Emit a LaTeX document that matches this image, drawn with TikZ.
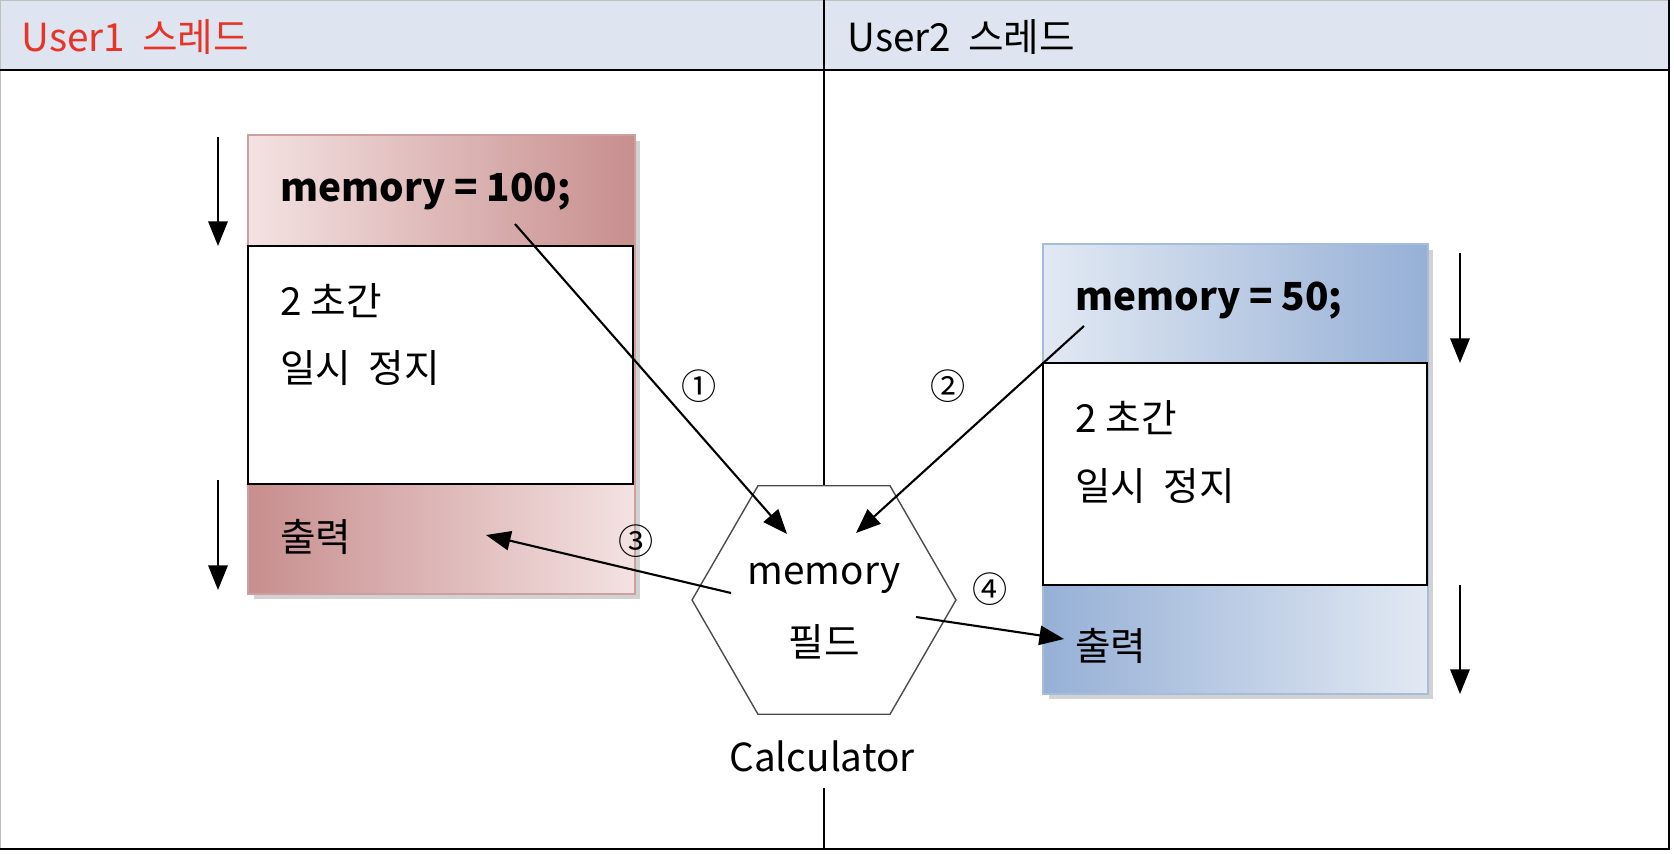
\documentclass[tikz,border=0pt]{standalone}
\usepackage{fontspec}
\setmainfont{Noto Sans CJK KR}
\usetikzlibrary{arrows.meta,shapes.geometric}
\definecolor{hdrblue}{RGB}{222,229,240}
\definecolor{rosedark}{RGB}{200,142,142}
\definecolor{roselight}{RGB}{244,226,226}
\definecolor{roseline}{RGB}{205,160,160}
\definecolor{bluedark}{RGB}{150,176,214}
\definecolor{bluelight}{RGB}{226,233,243}
\definecolor{blueline}{RGB}{165,188,220}
\definecolor{usered}{RGB}{232,52,40}
\tikzset{
    %Define standard arrow tip
    >={Triangle[length=14pt,width=11pt]},
    % Define arrow style
    pil/.style={
           ->,
           line width=1.2pt},
    % arrows beside the boxes
    tidpil/.style={
           ->,
           line width=1.3pt},
    txt/.style={anchor=west, inner sep=0pt, font=\fontsize{22}{26}\selectfont},
    num/.style={inner sep=0pt, font=\fontsize{20}{24}\selectfont}
}

\begin{document}
\begin{tikzpicture}[x=0.02cm,y=-0.02cm]
\useasboundingbox (0,0) rectangle (1674,854);
% header
\fill[hdrblue] (0,0) rectangle (1669,70);
\node[txt, text=usered] (h1txt) at (21,37) {User1\ \ 스레드};
\node[txt] (h2txt) at (847,37) {User2\ \ 스레드};
\draw[gray!50, line width=0.6pt] (0,849) -- (0,0) -- (1669,0);
\draw[line width=1pt] (1669,0) -- (1669,849) -- (0,849);
\draw[line width=1.3pt] (0,70) -- (1669,70);

% calculator
\node[regular polygon, regular polygon sides=6, minimum size=5.28cm,
      draw=black!70, line width=0.8pt, fill=white] (hex) at (824,600) {};
\node[txt, anchor=center] (mem) at (824,578) {memory};
\node[txt, anchor=center] (fld) at (824,642) {필드};
\node[txt, anchor=center] (calc) at (822,756) {Calculator};
\coordinate (dv) at (824,788);
\draw[line width=0.9pt] (824,0) -- (hex.north);
\draw[line width=0.9pt] (dv) -- (824,849);

% User1 box
\fill[gray!35] (254,141) rectangle (640,599);
\shade[left color=roselight, right color=rosedark] (248,135) rectangle (635,246);
\shade[left color=rosedark, right color=roselight] (248,484) rectangle (635,594);
\draw[roseline, line width=0.8pt] (248,135) rectangle (635,594);
\draw[fill=white, line width=0.9pt] (248,246) rectangle (633,484);
\node[txt, font=\fontsize{22}{26}\selectfont\bfseries] (u1set) at (280,192) {memory = 100;};
\node[txt] (u1a) at (280,301) {2 초간};
\node[txt] (u1b) at (280,368) {일시\ \ 정지};
\node[txt] (u1out) at (280,537) {출력};

% User2 box
\fill[gray!35] (1049,250) rectangle (1433,699);
\shade[left color=bluelight, right color=bluedark] (1043,244) rectangle (1428,363);
\shade[left color=bluedark, right color=bluelight] (1043,585) rectangle (1428,694);
\draw[blueline, line width=0.8pt] (1043,244) rectangle (1428,694);
\draw[fill=white, line width=0.9pt] (1043,363) rectangle (1427,585);
\node[txt, font=\fontsize{22}{26}\selectfont\bfseries] (u2set) at (1075,301) {memory = 50;};
\node[txt] (u2a) at (1075,418) {2 초간};
\node[txt] (u2b) at (1075,486) {일시\ \ 정지};
\node[txt] (u2out) at (1075,646) {출력};

% time arrows
\coordinate (ta1) at (218,137); \coordinate (tb1) at (218,246);
\coordinate (ta2) at (218,480); \coordinate (tb2) at (218,590);
\coordinate (ta3) at (1460,253); \coordinate (tb3) at (1460,363);
\coordinate (ta4) at (1460,585); \coordinate (tb4) at (1460,694);
\draw[tidpil] (ta1) -- (tb1);
\draw[tidpil] (ta2) -- (tb2);
\draw[tidpil] (ta3) -- (tb3);
\draw[tidpil] (ta4) -- (tb4);

% numbered arrows
\coordinate (s1) at (515,224); \coordinate (e1) at (787,534);
\coordinate (s2) at (1084,326); \coordinate (e2) at (856,533);
\coordinate (s3) at (731,593); \coordinate (e3) at (486,535);
\coordinate (s4) at (916,617); \coordinate (e4) at (1064,639);
\draw[pil] (s1) -- (e1);
\draw[pil] (s2) -- (e2);
\draw[pil] (s3) -- (e3);
\draw[pil] (s4) -- (e4);
\node[num] (n1) at (699,386) {①};
\node[num] (n2) at (948,386) {②};
\node[num] (n3) at (636,541) {③};
\node[num] (n4) at (990,589) {④};

\end{tikzpicture}
\end{document}
